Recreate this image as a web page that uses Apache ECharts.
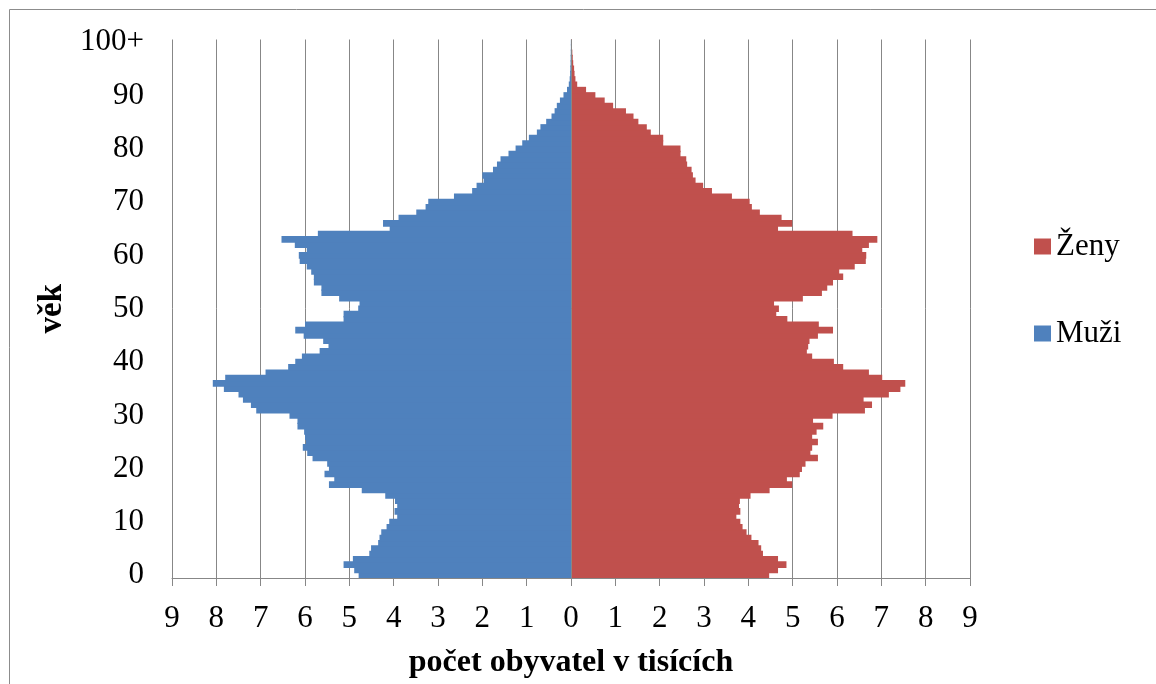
<!DOCTYPE html>
<html>
<head>
<meta charset="utf-8">
<script src="https://cdn.jsdelivr.net/npm/echarts@6/dist/echarts.min.js"></script>
<style>
  html, body { margin: 0; padding: 0; background: #ffffff; }
  #chart { width: 1156px; height: 684px; }
</style>
</head>
<body>
<div id="chart"></div>
<script>
// Age groups 0 … 99 and the open group 100+
const ages = Array.from({ length: 100 }, (_, i) => String(i)).concat(['100+']);

// Population by single year of age, in thousands
const muzi = [
  4.79, 4.89, 5.13, 4.92, 4.55, 4.51, 4.35, 4.32, 4.28, 4.16,
  4.10, 3.92, 3.98, 3.92, 3.97, 4.19, 4.72, 5.46, 5.34, 5.56,
  5.46, 5.50, 5.83, 5.95, 6.05, 5.98, 6.00, 6.02, 6.17, 6.17,
  6.35, 7.10, 7.22, 7.40, 7.50, 7.83, 8.08, 7.80, 6.89, 6.38,
  6.22, 6.07, 5.67, 5.47, 5.59, 6.03, 6.22, 6.00, 5.13, 5.13,
  4.80, 4.77, 5.23, 5.63, 5.63, 5.80, 5.80, 5.86, 5.96, 6.12,
  6.14, 5.96, 6.23, 6.53, 5.71, 4.09, 4.24, 3.89, 3.49, 3.28,
  3.22, 2.64, 2.23, 2.13, 1.97, 2.00, 1.76, 1.67, 1.59, 1.41,
  1.25, 1.10, 0.95, 0.77, 0.69, 0.56, 0.44, 0.37, 0.32, 0.25,
  0.17, 0.09, 0.05, 0.03, 0.02, 0.015, 0.01, 0.008, 0.005, 0.003,
  0.003
];
const zeny = [
  4.47, 4.67, 4.86, 4.67, 4.33, 4.29, 4.23, 4.07, 3.96, 3.87,
  3.82, 3.73, 3.82, 3.79, 3.81, 4.05, 4.48, 4.99, 4.87, 5.16,
  5.21, 5.29, 5.57, 5.40, 5.44, 5.57, 5.44, 5.54, 5.69, 5.46,
  5.90, 6.63, 6.79, 6.60, 7.17, 7.43, 7.54, 7.02, 6.72, 6.14,
  5.93, 5.44, 5.32, 5.35, 5.38, 5.57, 5.91, 5.59, 4.88, 4.63,
  4.69, 4.58, 5.23, 5.66, 5.78, 5.91, 6.14, 6.05, 6.40, 6.65,
  6.66, 6.57, 6.72, 6.91, 6.35, 4.67, 4.99, 4.75, 4.26, 4.08,
  4.03, 3.63, 3.18, 2.98, 2.81, 2.75, 2.72, 2.62, 2.60, 2.47,
  2.47, 2.08, 2.08, 1.80, 1.71, 1.52, 1.41, 1.24, 0.95, 0.76,
  0.55, 0.34, 0.14, 0.10, 0.08, 0.07, 0.05, 0.04, 0.03, 0.02,
  0.02
];

const FONT = 'Liberation Serif, Times New Roman, serif';
const GRID_GREY = '#878787';
const BLUE = '#4F81BD';
const RED = '#C0504D';

const chart = echarts.init(document.getElementById('chart'), null, { renderer: 'canvas' });

chart.setOption({
  animation: false,
  backgroundColor: '#ffffff',
  textStyle: { fontFamily: FONT, color: '#000000' },
  grid: { left: 172, right: 186, top: 39.5, bottom: 100.5, containLabel: false },
  legend: {
    data: ['Ženy', 'Muži'],
    orient: 'vertical',
    left: 1029,
    top: 226,
    itemWidth: 17,
    itemHeight: 16,
    itemGap: 56,
    icon: 'rect',
    textStyle: { fontFamily: FONT, fontSize: 31, lineHeight: 31, color: '#000000' }
  },
  xAxis: {
    type: 'value',
    min: -9,
    max: 9,
    interval: 1,
    name: 'počet obyvatel v tisících',
    nameLocation: 'middle',
    nameGap: 69,
    nameTextStyle: { fontFamily: FONT, fontSize: 32, fontWeight: 'bold', color: '#000000' },
    axisLine: { show: true, lineStyle: { color: GRID_GREY, width: 1 } },
    axisTick: { show: true, inside: false, length: 8, lineStyle: { color: GRID_GREY, width: 1 } },
    axisLabel: {
      margin: 25,
      fontFamily: FONT,
      fontSize: 31,
      color: '#000000',
      formatter: v => String(Math.abs(v))
    },
    splitLine: { show: true, lineStyle: { color: GRID_GREY, width: 1 } }
  },
  yAxis: {
    type: 'category',
    data: ages,
    name: 'věk',
    nameLocation: 'middle',
    nameRotate: 90,
    nameGap: 94,
    nameTextStyle: { fontFamily: FONT, fontSize: 33, fontWeight: 'bold', color: '#000000' },
    axisLine: { show: false, onZero: false },
    axisTick: { show: false },
    axisLabel: {
      interval: 9,
      margin: 28,
      fontFamily: FONT,
      fontSize: 31,
      color: '#000000'
    },
    splitLine: { show: false }
  },
  series: [
    {
      name: 'Muži',
      type: 'bar',
      data: muzi.map(v => -v),
      barGap: '-100%',
      // slightly wider than the band so neighbouring ages join without seams
      barWidth: '125%',
      itemStyle: { color: BLUE }
    },
    {
      name: 'Ženy',
      type: 'bar',
      data: zeny,
      barGap: '-100%',
      barWidth: '125%',
      itemStyle: { color: RED },
      markLine: {
        silent: true,
        symbol: 'none',
        label: { show: false },
        lineStyle: { color: GRID_GREY, width: 1, type: 'solid' },
        data: [{ xAxis: 0 }]
      }
    }
  ],
  graphic: [
    {
      type: 'rect',
      shape: { x: 9.5, y: 9.5, width: 1400, height: 900 },
      style: { fill: 'none', stroke: '#8c8c8c', lineWidth: 1 },
      silent: true
    }
  ]
});
</script>
</body>
</html>
